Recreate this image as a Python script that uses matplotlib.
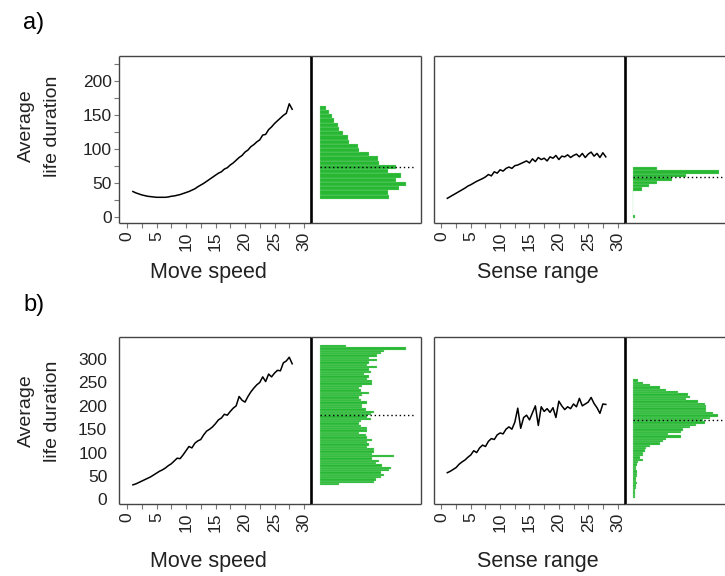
import numpy as np
import matplotlib
matplotlib.use("Agg")
import matplotlib.pyplot as plt
from matplotlib.ticker import MultipleLocator

plt.rcParams['font.family'] = ['Liberation Sans', 'DejaVu Sans']

# ---------------- data ----------------
x_grid = [1, 1.5, 2, 2.5, 3, 3.5, 4, 4.5, 5, 5.5, 6, 6.5, 7, 7.5, 8, 8.5, 9, 9.5, 10, 10.5,
          11, 11.5, 12, 12.5, 13, 13.5, 14, 14.5, 15, 15.5, 16, 16.5, 17, 17.5, 18, 18.5, 19, 19.5,
          20, 20.5, 21, 21.5, 22, 22.5, 23, 23.5, 24, 24.5, 25, 25.5, 26, 26.5, 27, 27.5, 28]

# a) move speed
a_speed = [37, 35, 33.5, 32, 31, 30, 29.5, 29, 28.5, 28.5, 28.5, 28.5, 29, 30, 30.5, 31.5, 32.5, 34,
           35.5, 37, 39, 41, 44, 46.5, 49, 52, 55, 58, 61, 64, 66, 70, 72, 76, 79, 83, 87, 90,
           95, 98, 103, 106, 110, 113, 120, 121, 128, 132, 137, 141, 145, 149, 152, 166, 158]
# a) sense range
a_sense = [27, 29.5, 32, 34.5, 37, 39.5, 42, 45, 47, 49.5, 52, 54, 56, 58.5, 62, 60, 66, 64,
           69, 67, 71, 73, 71, 75, 76, 78, 80, 82, 79, 85, 81, 87, 84, 86, 82, 88, 86, 90,
           84, 89, 88, 91, 87, 90, 92, 88, 93, 87, 92, 95, 89, 93, 87, 94, 88]
# b) move speed
b_speed = [31, 33, 36, 39, 42, 45, 48, 52, 56, 60, 63, 67, 72, 76, 82, 88, 87, 95, 104, 113,
           110, 120, 125, 128, 138, 146, 150, 155, 162, 170, 174, 182, 180, 188, 195, 200, 220, 212,
           208, 220, 230, 238, 245, 250, 262, 252, 268, 262, 270, 276, 275, 292, 296, 304, 290]
# b) sense range
b_sense = [57, 60, 64, 68, 75, 80, 84, 90, 95, 104, 100, 110, 116, 113, 124, 130, 128, 138,
           142, 140, 150, 155, 150, 165, 195, 152, 175, 180, 170, 185, 200, 158, 198, 188, 194, 186,
           196, 175, 210, 200, 192, 198, 194, 204, 198, 216, 200, 204, 208, 218, 205, 196, 184, 204, 203]

# histograms (bins from bottom to top)
a_speed_hist_start, a_speed_hist_width = 26, 6.25
a_speed_hist = [69, 68, 79, 86, 76, 81, 68, 76, 59, 58, 49, 39, 38, 29, 28, 23, 19, 18, 14, 12, 9, 6]
a_speed_mean = 73

a_sense_hist_start, a_sense_hist_width = -2, 5
a_sense_hist = [1.5, 0, 0, 0, 0, 0, 0, 0, 9, 16, 24, 39, 53, 86, 24]
a_sense_mean = 59

b_speed_hist_start, b_speed_hist_width = 30, 5
b_speed_hist = [19, 54, 56, 61, 64, 61, 69, 71, 62, 56, 59, 52, 74, 52, 54, 54, 47, 49, 47, 52,
                47, 46, 39, 47, 47, 41, 39, 41, 51, 47, 51, 54, 46, 42, 42, 47, 41, 39, 42, 49,
                41, 39, 42, 52, 52, 47, 49, 44, 51, 49, 57, 47, 49, 57, 49, 57, 61, 64, 86, 26]
b_speed_mean = 180

b_sense_hist_start, b_sense_hist_width = 2, 5
b_sense_hist = [2, 2, 2, 2, 3, 3, 4, 3, 3, 4, 4, 4, 3, 3, 4, 5, 10, 7, 10, 10, 12, 13, 17, 27, 30,
                33, 48, 35, 48, 50, 57, 63, 72, 70, 77, 85, 80, 73, 73, 73, 72, 65, 53, 57, 55, 45,
                33, 27, 17, 10, 5]
b_sense_mean = 170

x_ticks = [0, 5, 10, 15, 20, 25, 30]
ya_ticks = [0, 50, 100, 150, 200]
yb_ticks = [0, 50, 100, 150, 200, 250, 300]

# ---------------- layout ----------------
W, H = 725, 576
fig = plt.figure(figsize=(W / 100, H / 100), dpi=100)

def rect(x0, y0, w, h):
    return [x0 / W, 1 - (y0 + h) / H, w / W, h / H]

GREEN = '#27B733'
BOX = '#444444'
TXT = '#222222'
XLIM = (-8 / 5.9, 184 / 5.9)
HXLIM = (-8.5, 101.5)
TICKFS = 12.5

rows = [
    dict(top=56, ylim=(-9.3, 236.3), yticks=ya_ticks, ticklen=True,
         lines=(a_speed, a_sense),
         hists=((a_speed_hist_start, a_speed_hist_width, a_speed_hist, a_speed_mean),
                (a_sense_hist_start, a_sense_hist_width, a_sense_hist, a_sense_mean)),
         letter='a)', letter_y=22.5, ylab_y=126, xlab_y=278),
    dict(top=337, ylim=(-10, 347.3), yticks=yb_ticks, ticklen=False,
         lines=(b_speed, b_sense),
         hists=((b_speed_hist_start, b_speed_hist_width, b_speed_hist, b_speed_mean),
                (b_sense_hist_start, b_sense_hist_width, b_sense_hist, b_sense_mean)),
         letter='b)', letter_y=305, ylab_y=411, xlab_y=567),
]

panel_x = [(119, 192, 311, 110), (433.5, 191, 624.5, 110)]
xlabels = ['Move speed', 'Sense range']
xlab_cx = [208.5, 537.5]
PH = 167

for r in rows:
    for j in range(2):
        lx, lw, hx, hw = panel_x[j]
        ax = fig.add_axes(rect(lx, r['top'], lw, PH))
        ax.plot(x_grid, r['lines'][j], color='black', lw=1.1)
        ax.set_xlim(*XLIM)
        ax.set_ylim(*r['ylim'])
        ax.set_xticks(x_ticks)
        ax.xaxis.set_minor_locator(MultipleLocator(2.5))
        ax.tick_params(axis='x', which='both', direction='out', length=3.6, width=0.8,
                       color='#777777', labelsize=TICKFS, labelcolor=TXT, pad=2.5,
                       labelrotation=90)
        ax.set_yticks(r['yticks'])
        if j == 0:
            if r['ticklen']:
                ax.yaxis.set_minor_locator(MultipleLocator(25))
                ax.tick_params(axis='y', which='both', direction='out', length=3.6, width=0.8,
                               color='#777777', labelsize=TICKFS, labelcolor=TXT, pad=1.5)
            else:
                ax.tick_params(axis='y', which='both', length=0, labelsize=TICKFS,
                               labelcolor=TXT, pad=8.5)
        else:
            ax.tick_params(axis='y', which='both', length=0, labelleft=False)
        for s in ax.spines.values():
            s.set_color(BOX)
            s.set_linewidth(1.0)
            s.set_capstyle('butt')
        ax.spines['right'].set_visible(False)

        # histogram
        start, bw, counts, mean = r['hists'][j]
        hax = fig.add_axes(rect(hx, r['top'], hw, PH))
        hax.patch.set_visible(False)
        bottoms = [start + k * bw for k in range(len(counts))]
        hax.barh(bottoms, counts, height=bw, align='edge', color=GREEN,
                 edgecolor='#9fe0a0', linewidth=0.2)
        hax.plot([0, 94], [mean, mean], color='black', lw=1.0, ls=(0, (1, 2.0)))
        hax.set_xlim(*HXLIM)
        hax.set_ylim(*r['ylim'])
        hax.set_xticks([])
        hax.set_yticks([])
        for s in hax.spines.values():
            s.set_color(BOX)
            s.set_linewidth(1.0)
            s.set_capstyle('butt')
        hax.spines['left'].set_color('black')
        hax.spines['left'].set_linewidth(1.9)

        fig.text(xlab_cx[j] / W, 1 - r['xlab_y'] / H, xlabels[j], fontsize=15.5,
                 color=TXT, ha='center', va='baseline')

    fig.text(23 / W, 1 - r['letter_y'] / H, r['letter'], fontsize=17, color='black',
             ha='left', va='center')
    fig.text(39.5 / W, 1 - r['ylab_y'] / H, 'Average\nlife duration', fontsize=14,
             color=TXT, rotation=90, ha='center', va='center', multialignment='center',
             linespacing=1.7)

fig.savefig('out.png', dpi=100)
